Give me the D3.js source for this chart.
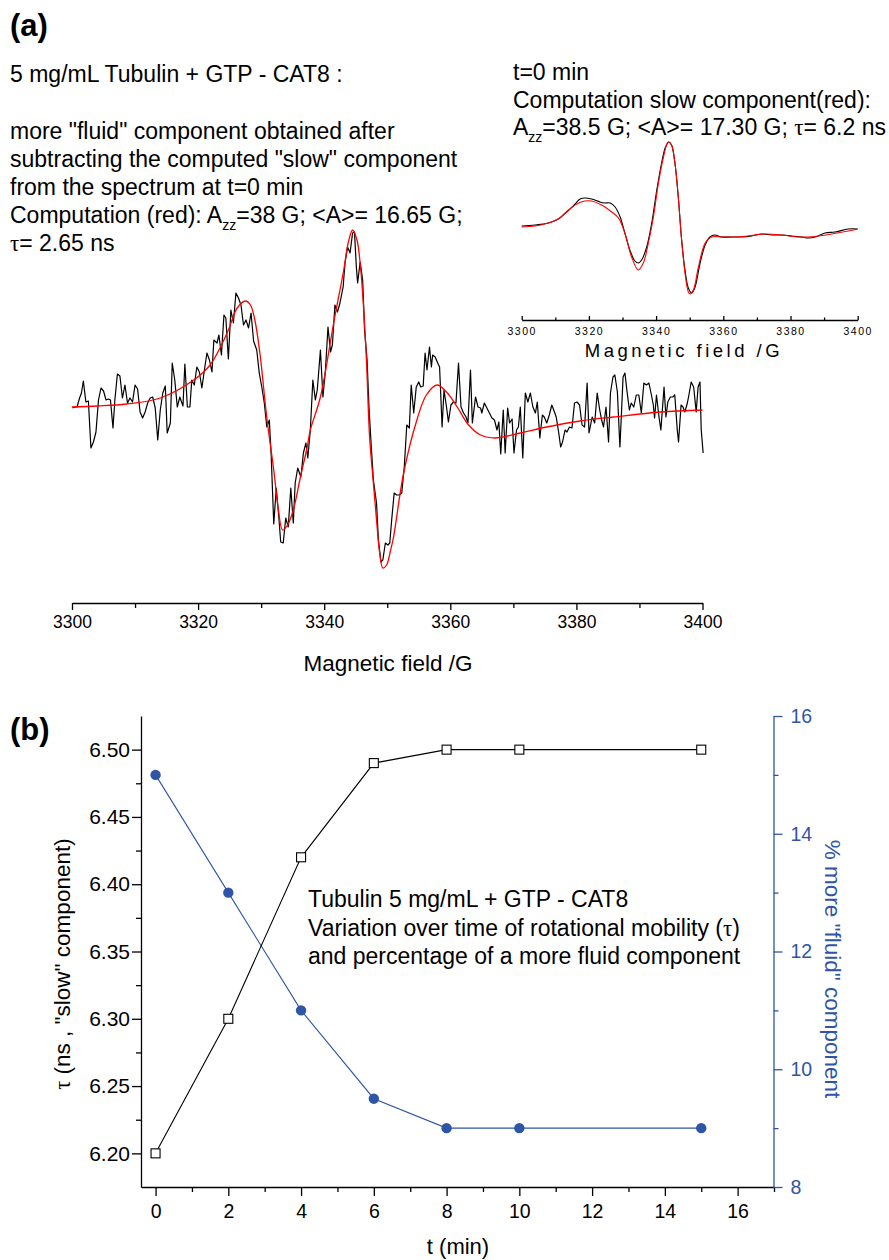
<!DOCTYPE html>
<html>
<head>
<meta charset="utf-8">
<script src="https://cdn.jsdelivr.net/npm/d3@7"></script>
<style>
  body { margin: 0; background: #fff; }
  svg { display: block; font-family: "Liberation Sans", Arial, sans-serif; }
</style>
</head>
<body>
<div id="chart"></div>
<script>
// ---- panel (a) data : field (G), signal (a.u.) ----
const fieldTicks = [3300, 3320, 3340, 3360, 3380, 3400];
const fieldMinor = [3310, 3330, 3350, 3370, 3390];

// "fluid" component, experimental (black)
const fluidSpectrum = [
  [3300.1,0],[3300.5,1],[3300.8,1],[3301.2,10],[3301.5,15],[3301.8,27],[3302.2,6],[3302.6,7],
  [3303.0,-40],[3303.4,-34],[3303.8,-24],[3304.2,8],[3304.6,20],[3305.0,17],[3305.4,8],[3305.8,9],
  [3306.1,8],[3306.5,-20],[3306.8,8],[3307.2,34],[3307.6,32],[3308.0,10],[3308.4,23],[3308.8,5],
  [3309.2,10],[3309.6,6],[3310.0,23],[3310.4,19],[3310.8,-4],[3311.2,-10],[3311.6,-4],[3312.0,5],
  [3312.4,10],[3312.8,11],[3313.2,0],[3313.6,-32],[3314.0,-2],[3314.4,15],[3314.8,22],[3315.1,-25],
  [3315.6,-15],[3315.9,45],[3316.3,28],[3316.7,1],[3317.1,11],[3317.6,2],[3317.9,44],[3318.3,1],
  [3318.7,1],[3319.0,28],[3319.4,23],[3319.8,41],[3320.2,36],[3320.6,20],[3321.0,38],[3321.4,55],
  [3321.8,48],[3322.2,36],[3322.5,68],[3323.0,65],[3323.3,73],[3323.7,53],[3324.1,93],[3324.4,90],
  [3324.8,49],[3325.2,98],[3325.6,85],[3326.0,115],[3326.4,110],[3326.8,103],[3327.2,83],[3327.6,88],
  [3328.0,80],[3328.4,95],[3328.8,67],[3329.3,58],[3329.7,35],[3330.1,21],[3330.5,5],[3330.9,-19],
  [3331.3,-12],[3331.6,-49],[3332.0,-116],[3332.4,-80],[3332.8,-109],[3333.1,-134],[3333.5,-135],[3333.9,-110],
  [3334.3,-119],[3334.7,-80],[3335.1,-115],[3335.4,-75],[3335.8,-60],[3336.3,-69],[3336.7,-45],[3337.1,-35],
  [3337.4,-50],[3337.8,-22],[3338.2,28],[3338.6,8],[3338.9,18],[3339.4,58],[3339.8,11],[3340.2,38],
  [3340.6,81],[3341.0,56],[3341.3,63],[3341.7,103],[3342.1,96],[3342.5,105],[3343.0,121],[3343.3,145],
  [3343.7,161],[3344.1,155],[3344.5,175],[3344.8,176],[3345.1,141],[3345.3,125],[3345.7,146],[3346.1,128],
  [3346.4,78],[3346.8,48],[3347.1,1],[3347.5,-42],[3347.8,-72],[3348.3,-95],[3348.6,-132],[3349.0,-154],
  [3349.3,-152],[3349.7,-135],[3350.1,-137],[3350.4,-135],[3350.7,-112],[3351.1,-85],[3351.5,-87],[3351.9,-87],
  [3352.3,-85],[3352.7,-59],[3353.1,-17],[3353.5,-20],[3353.8,23],[3354.2,-5],[3354.6,21],[3355.0,26],
  [3355.3,21],[3355.7,22],[3356.0,55],[3356.3,38],[3356.7,61],[3357.0,41],[3357.2,53],[3357.6,51],
  [3358.0,45],[3358.3,41],[3358.7,-19],[3359.0,18],[3359.4,1],[3359.7,-14],[3360.1,3],[3360.5,6],
  [3360.9,5],[3361.3,45],[3361.7,1],[3362.1,-5],[3362.5,-9],[3362.8,-15],[3363.2,38],[3363.5,-15],
  [3364.0,11],[3364.4,1],[3364.8,0],[3365.0,-5],[3365.4,5],[3365.8,0],[3366.2,-5],[3366.6,-10],
  [3367.0,-12],[3367.4,-22],[3367.7,-14],[3368.0,-46],[3368.4,-2],[3368.7,-45],[3369.1,0],[3369.4,-15],
  [3369.8,-11],[3370.1,-45],[3370.5,-22],[3370.8,-19],[3371.1,1],[3371.5,-50],[3371.9,15],[3372.3,6],
  [3372.7,15],[3373.1,1],[3373.5,-5],[3373.8,6],[3374.2,-30],[3374.6,-7],[3374.9,-9],[3375.3,-15],
  [3375.7,-7],[3376.1,3],[3376.4,-2],[3376.8,-9],[3377.2,-25],[3377.5,-39],[3377.8,-34],[3378.2,-22],
  [3378.5,-24],[3378.9,-19],[3379.3,-20],[3379.7,5],[3380.1,6],[3380.5,3],[3380.9,-17],[3381.3,-19],
  [3381.7,25],[3382.0,-25],[3382.5,-9],[3382.9,-15],[3383.3,15],[3383.7,-2],[3384.0,-12],[3384.3,-19],
  [3384.7,1],[3385.1,-34],[3385.4,15],[3385.8,31],[3386.1,33],[3386.5,16],[3386.9,-39],[3387.1,-12],
  [3387.4,31],[3387.7,35],[3388.0,18],[3388.4,-2],[3388.7,5],[3389.1,1],[3389.5,13],[3389.9,13],
  [3390.3,-5],[3390.7,25],[3391.1,23],[3391.5,25],[3391.9,13],[3392.2,3],[3392.4,-10],[3392.7,13],
  [3393.1,-9],[3393.4,-22],[3393.9,21],[3394.2,-9],[3394.5,6],[3394.9,11],[3395.3,11],[3395.6,13],
  [3396.0,-22],[3396.2,-34],[3396.6,3],[3396.9,1],[3397.2,-4],[3397.6,5],[3397.9,15],[3398.2,26],
  [3398.6,21],[3399.0,-4],[3399.3,21],[3399.6,26],[3399.8,-22],[3400.1,-45]
];

// "fluid" component, computed (red)
const fluidFit = [
  [3300,1],[3304,2],[3308.7,4],[3314,10],[3319.3,28],[3321.9,43],[3324.6,75],[3326.2,100],
  [3327.5,107],[3328.3,103],[3329.0,88],[3329.8,55],[3330.9,-10],[3332.0,-62],[3332.7,-100],[3333.4,-122],
  [3334.2,-117],[3335.1,-102],[3336.2,-70],[3337.3,-39],[3337.8,-22],[3339.4,11],[3341.5,85],[3343.1,138],
  [3343.8,165],[3344.5,178],[3345.2,168],[3345.7,145],[3346.2,105],[3346.7,48],[3347.2,-29],[3347.8,-75],
  [3348.3,-112],[3348.8,-145],[3349.3,-160],[3349.9,-157],[3350.5,-143],[3351.0,-129],[3352.6,-65],[3354.7,-12],
  [3356.2,13],[3357.9,23],[3359.4,16],[3361.1,1],[3362.9,-17],[3364.8,-27],[3367.1,-30],[3371.1,-25],
  [3375.3,-19],[3380.6,-13],[3385.9,-9],[3393.3,-4],[3400,-2]
];

// inset: spectrum at t=0 (black) and slow component fit (red)
const slowSpectrum = [
  [3300.0,0],[3304.0,1],[3307.9,3],[3310.9,7],[3313.4,14],[3315.9,22],[3317.4,27],[3318.8,28],
  [3320.8,27],[3323.3,24],[3324.8,23],[3326.3,23],[3327.8,19],[3329.3,9],[3330.7,-7],[3332.2,-24],
  [3333.7,-35],[3334.7,-37],[3335.7,-34],[3337.2,-21],[3338.7,3],[3340.2,36],[3341.7,64],[3342.8,79],
  [3343.8,84],[3344.6,81],[3345.6,63],[3346.6,29],[3347.6,-14],[3348.6,-44],[3349.6,-62],[3350.6,-67],
  [3351.6,-61],[3353.1,-37],[3354.6,-19],[3356.0,-11],[3357.5,-9],[3359.5,-11],[3362.5,-11],[3365.4,-11],
  [3368.4,-10],[3371.4,-8],[3374.4,-9],[3377.4,-9],[3380.4,-10],[3383.3,-11],[3385.3,-12],[3387.3,-11],
  [3390.3,-7],[3393.2,-6],[3397.2,-3],[3400.0,-3]
];
const slowFit = [
  [3300.0,-1],[3304.0,0],[3307.9,3],[3310.9,7],[3313.9,16],[3316.4,22],[3318.8,25],[3320.8,25],
  [3323.8,21],[3326.8,14],[3328.8,8],[3330.7,-7],[3332.7,-31],[3334.7,-44],[3336.2,-37],[3337.7,-17],
  [3339.2,9],[3340.7,43],[3342.2,69],[3343.6,84],[3344.6,81],[3345.6,63],[3346.6,29],[3347.6,-14],
  [3348.6,-47],[3349.6,-66],[3350.1,-68],[3351.1,-64],[3352.6,-41],[3354.6,-17],[3356.5,-11],[3359.5,-11],
  [3362.5,-11],[3367.4,-10],[3372.4,-8],[3377.4,-9],[3382.4,-11],[3385.3,-11],[3388.3,-10],[3392.3,-8],
  [3397.2,-5],[3400.0,-3]
];

// ---- panel (b) data ----
const times = [0, 2, 4, 6, 8, 10, 15];
const tauSlow = [6.20, 6.30, 6.42, 6.49, 6.50, 6.50, 6.50];
const fluidPct = [15, 13, 11, 9.5, 9, 9, 9];
const timeTicks = [0, 2, 4, 6, 8, 10, 12, 14, 16];
const timeMinor = [1, 3, 5, 7, 9, 11, 13, 15, 17];
const tauTicks = [6.20, 6.25, 6.30, 6.35, 6.40, 6.45, 6.50];
const tauMinor = [6.225, 6.275, 6.325, 6.375, 6.425, 6.475];
const pctTicks = [8, 10, 12, 14, 16];
const pctMinor = [9, 11, 13, 15];

const blue = "#2f55a6";
const serif = "'Liberation Serif', 'Times New Roman', serif";

var svg = d3.select("#chart")
  .append("svg")
    .attr("width", 889)
    .attr("height", 1260);

// helper: style an axis group
function styleAxis(g, size, color) {
  g.attr("font-family", null).attr("font-size", size);
  g.selectAll("path, line").attr("stroke", color).attr("stroke-width", 1.3);
  g.selectAll("text").attr("fill", color);
}

// ================= panel (a) =================
var xA = d3.scaleLinear().domain([3300, 3400]).range([72, 702.5]);
var yA = d3.scaleLinear().domain([-200, 200]).range([608, 208]);

var axA = svg.append("g")
  .attr("transform", "translate(0,603)")
  .call(d3.axisBottom(xA).tickValues(fieldTicks).tickFormat(d3.format("d"))
    .tickSize(7).tickSizeOuter(0).tickPadding(6));
styleAxis(axA, 17.5, "#000");
var axAm = svg.append("g")
  .attr("transform", "translate(0,603)")
  .call(d3.axisBottom(xA).tickValues(fieldMinor).tickSize(5).tickFormat(""));
axAm.select(".domain").remove();
styleAxis(axAm, 10, "#000");

svg.append("text")
  .attr("x", 388).attr("y", 671)
  .attr("text-anchor", "middle")
  .attr("font-size", 22.5)
  .text("Magnetic field /G");

var lineA = d3.line().x(d => xA(d[0])).y(d => yA(d[1]));
svg.append("path")
  .datum(fluidSpectrum)
  .attr("d", lineA)
  .attr("fill", "none").attr("stroke", "#000").attr("stroke-width", 1.2)
  .attr("stroke-linejoin", "round");
svg.append("path")
  .datum(fluidFit)
  .attr("d", lineA.curve(d3.curveCatmullRom))
  .attr("fill", "none").attr("stroke", "#f00").attr("stroke-width", 1.3);

// inset
var xI = d3.scaleLinear().domain([3300, 3400]).range([521.7, 857.7]);
var yI = d3.scaleLinear().domain([-100, 100]).range([326, 126]);

var axI = svg.append("g")
  .attr("transform", "translate(0,320)")
  .call(d3.axisBottom(xI).tickValues(fieldTicks).tickFormat(d3.format("d"))
    .tickSize(-4).tickSizeOuter(0).tickPadding(7.5));
styleAxis(axI, 10.5, "#000");
axI.selectAll("text").attr("letter-spacing", 1.5);
var axIm = svg.append("g")
  .attr("transform", "translate(0,320)")
  .call(d3.axisBottom(xI).tickValues(fieldMinor).tickSize(-2.5).tickFormat(""));
axIm.select(".domain").remove();
styleAxis(axIm, 10, "#000");

svg.append("text")
  .attr("x", 684).attr("y", 357)
  .attr("text-anchor", "middle")
  .attr("font-size", 18.5)
  .attr("letter-spacing", 3.5)
  .text("Magnetic field /G");

var lineI = d3.line().x(d => xI(d[0])).y(d => yI(d[1])).curve(d3.curveCatmullRom);
svg.append("path")
  .datum(slowSpectrum)
  .attr("d", lineI)
  .attr("fill", "none").attr("stroke", "#000").attr("stroke-width", 1.1);
svg.append("path")
  .datum(slowFit)
  .attr("d", lineI)
  .attr("fill", "none").attr("stroke", "#f00").attr("stroke-width", 1.1);

// texts of panel (a)
svg.append("text").attr("x", 10).attr("y", 36)
  .attr("font-size", 31).attr("font-weight", "bold").text("(a)");

var leftLines = [
  [82, "5 mg/mL Tubulin + GTP - CAT8 :"],
  [138.5, "more \"fluid\" component obtained after"],
  [166.5, "subtracting the computed \"slow\" component"],
  [194.5, "from the spectrum at t=0 min"]
];
leftLines.forEach(function(l) {
  svg.append("text").attr("x", 10).attr("y", l[0]).attr("font-size", 23).text(l[1]);
});
var comp = svg.append("text").attr("x", 10).attr("y", 222.5).attr("font-size", 23);
comp.append("tspan").text("Computation (red): A");
comp.append("tspan").attr("font-size", 14).attr("dy", 7).text("zz");
comp.append("tspan").attr("dy", -7).text("=38 G; <A>= 16.65 G;");
var tauA = svg.append("text").attr("x", 10).attr("y", 250.5).attr("font-size", 23);
tauA.append("tspan").attr("font-family", serif).text("τ");
tauA.append("tspan").text("= 2.65 ns");

svg.append("text").attr("x", 513).attr("y", 80).attr("font-size", 23).text("t=0 min");
svg.append("text").attr("x", 513).attr("y", 108.3).attr("font-size", 23).text("Computation slow component(red):");
var insetPar = svg.append("text").attr("x", 513).attr("y", 135).attr("font-size", 23);
insetPar.append("tspan").text("A");
insetPar.append("tspan").attr("font-size", 14).attr("dy", 7).text("zz");
insetPar.append("tspan").attr("dy", -7).text("=38.5 G; <A>= 17.30 G; ");
insetPar.append("tspan").attr("font-family", serif).text("τ");
insetPar.append("tspan").text("= 6.2 ns");

// ================= panel (b) =================
var xB = d3.scaleLinear().domain([-0.4, 17]).range([141, 774]);
var yL = d3.scaleLinear().domain([6.175, 6.525]).range([1187, 716]);
var yR = d3.scaleLinear().domain([8, 16]).range([1187, 716]);

// bottom axis
var axB = svg.append("g")
  .attr("transform", "translate(0,1187)")
  .call(d3.axisBottom(xB).tickValues(timeTicks).tickSize(9).tickSizeOuter(0).tickPadding(8));
styleAxis(axB, 19.5, "#000");
var axBm = svg.append("g")
  .attr("transform", "translate(0,1187)")
  .call(d3.axisBottom(xB).tickValues(timeMinor).tickSize(5).tickFormat(""));
axBm.select(".domain").remove();
styleAxis(axBm, 10, "#000");

// left axis
var axL = svg.append("g")
  .attr("transform", "translate(141,0)")
  .call(d3.axisLeft(yL).tickValues(tauTicks).tickFormat(d3.format(".2f")).tickSize(9).tickSizeOuter(0).tickPadding(2));
styleAxis(axL, 21, "#000");
var axLm = svg.append("g")
  .attr("transform", "translate(141,0)")
  .call(d3.axisLeft(yL).tickValues(tauMinor).tickSize(5).tickFormat(""));
axLm.select(".domain").remove();
styleAxis(axLm, 10, "#000");

// right axis
var axR = svg.append("g")
  .attr("transform", "translate(773.5,0)")
  .call(d3.axisRight(yR).tickValues(pctTicks).tickSize(9).tickSizeOuter(0).tickPadding(8));
styleAxis(axR, 19.5, blue);
var axRm = svg.append("g")
  .attr("transform", "translate(773.5,0)")
  .call(d3.axisRight(yR).tickValues(pctMinor).tickSize(5).tickFormat(""));
axRm.select(".domain").remove();
styleAxis(axRm, 10, blue);

// axis titles
svg.append("text")
  .attr("x", 458).attr("y", 1254)
  .attr("text-anchor", "middle").attr("font-size", 22)
  .text("t (min)");

var tl = svg.append("text")
  .attr("transform", "translate(62,964) rotate(-90)")
  .attr("text-anchor", "middle").attr("dy", "0.35em").attr("font-size", 22.5);
tl.append("tspan").attr("font-family", serif).text("τ");
tl.append("tspan").text(" (ns , \"slow\" component)");

svg.append("text")
  .attr("transform", "translate(833,969) rotate(90)")
  .attr("text-anchor", "middle").attr("dy", "0.35em").attr("font-size", 22.5)
  .attr("fill", blue)
  .text("% more \"fluid\" component");

// series
var tauPts = times.map((t, i) => [t, tauSlow[i]]);
var pctPts = times.map((t, i) => [t, fluidPct[i]]);

svg.append("path")
  .datum(pctPts)
  .attr("d", d3.line().x(d => xB(d[0])).y(d => yR(d[1])))
  .attr("fill", "none").attr("stroke", blue).attr("stroke-width", 1.1);
svg.append("path")
  .datum(tauPts)
  .attr("d", d3.line().x(d => xB(d[0])).y(d => yL(d[1])))
  .attr("fill", "none").attr("stroke", "#000").attr("stroke-width", 1.1);

svg.append("g")
  .selectAll("circle")
  .data(pctPts)
  .enter()
  .append("circle")
    .attr("cx", d => xB(d[0]))
    .attr("cy", d => yR(d[1]))
    .attr("r", 5.2)
    .attr("fill", blue);

svg.append("g")
  .selectAll("rect")
  .data(tauPts)
  .enter()
  .append("rect")
    .attr("x", d => xB(d[0]) - 4.5)
    .attr("y", d => yL(d[1]) - 4.5)
    .attr("width", 9).attr("height", 9)
    .attr("fill", "#fff").attr("stroke", "#000").attr("stroke-width", 1.1);

// labels of panel (b)
svg.append("text").attr("x", 10).attr("y", 740)
  .attr("font-size", 31).attr("font-weight", "bold").text("(b)");

svg.append("text").attr("x", 308).attr("y", 907).attr("font-size", 23)
  .text("Tubulin 5 mg/mL + GTP - CAT8");
var v2 = svg.append("text").attr("x", 308).attr("y", 935.5).attr("font-size", 23);
v2.append("tspan").text("Variation over time of rotational mobility (");
v2.append("tspan").attr("font-family", serif).text("τ");
v2.append("tspan").text(")");
svg.append("text").attr("x", 308).attr("y", 964).attr("font-size", 23)
  .text("and percentage of a more fluid component");
</script>
</body>
</html>
